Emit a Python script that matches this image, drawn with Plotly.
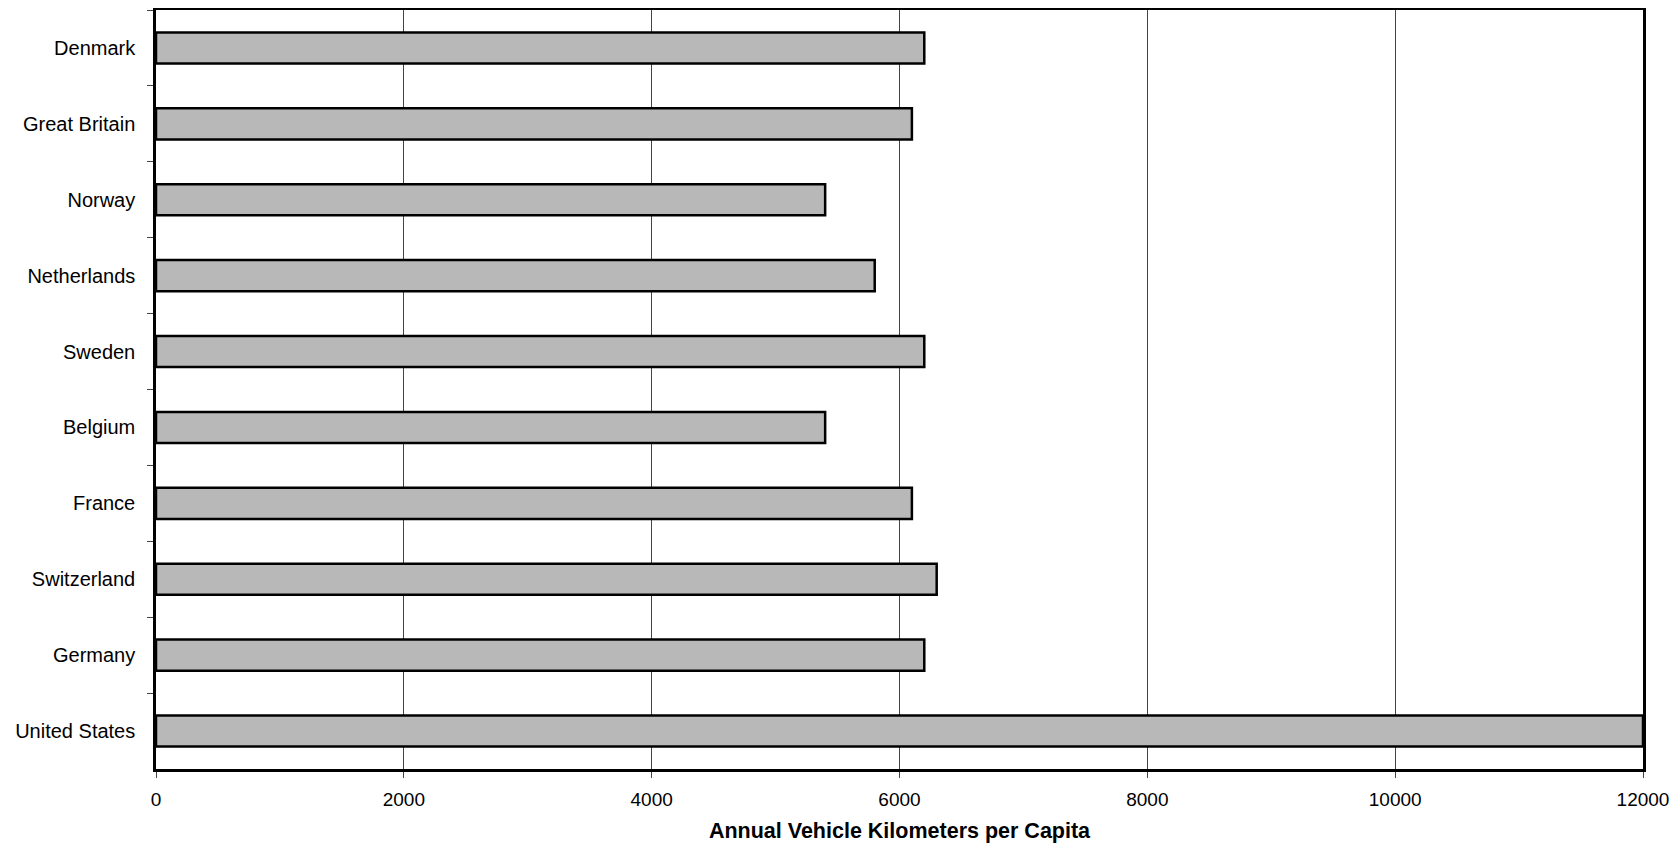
import plotly.graph_objects as go

countries = ["Denmark", "Great Britain", "Norway", "Netherlands", "Sweden",
             "Belgium", "France", "Switzerland", "Germany", "United States"]
km_per_capita = [6200, 6100, 5400, 5800, 6200, 5400, 6100, 6300, 6200, 12000]
x_ticks = [0, 2000, 4000, 6000, 8000, 10000, 12000]

fig = go.Figure()
fig.add_trace(go.Bar(
    x=km_per_capita,
    y=countries,
    orientation="h",
    width=0.41,
    marker=dict(color="#b8b8b8", line=dict(color="black", width=2.5)),
    cliponaxis=False,
))

font = dict(family="Liberation Sans, Arial, sans-serif", size=20, color="black")

# page body has an 8px margin; the figure is offset by it
fig.update_layout(
    width=1670, height=835,
    margin=dict(l=148, r=35, t=2, b=74),
    paper_bgcolor="white", plot_bgcolor="white",
    showlegend=False,
    font=font,
    xaxis=dict(
        range=[0, 12000],
        tickvals=x_ticks,
        ticktext=[str(v) for v in x_ticks],
        showgrid=True, gridcolor="#444444", gridwidth=1,
        zeroline=False,
        showline=True, linecolor="black", linewidth=2.5, mirror=True,
        ticks="outside", ticklen=6, tickcolor="#444444", tickwidth=1,
        tickfont=dict(size=19),
        ticklabelstandoff=5,
        ticklabeloverflow="allow",
        automargin=False,
        title=dict(text="<b>Annual Vehicle Kilometers per Capita</b>",
                   font=dict(size=21.5), standoff=20),
    ),
    yaxis=dict(
        categoryorder="array", categoryarray=countries,
        autorange="reversed",
        showgrid=False, zeroline=False,
        showline=True, linecolor="black", linewidth=2.5, mirror=True,
        ticks="outside", ticklen=6, tickcolor="#444444", tickwidth=1,
        tickson="boundaries",
        tickfont=dict(size=20),
        ticklabelstandoff=14,
        automargin=False,
    ),
)

fig.write_html("out.html")
